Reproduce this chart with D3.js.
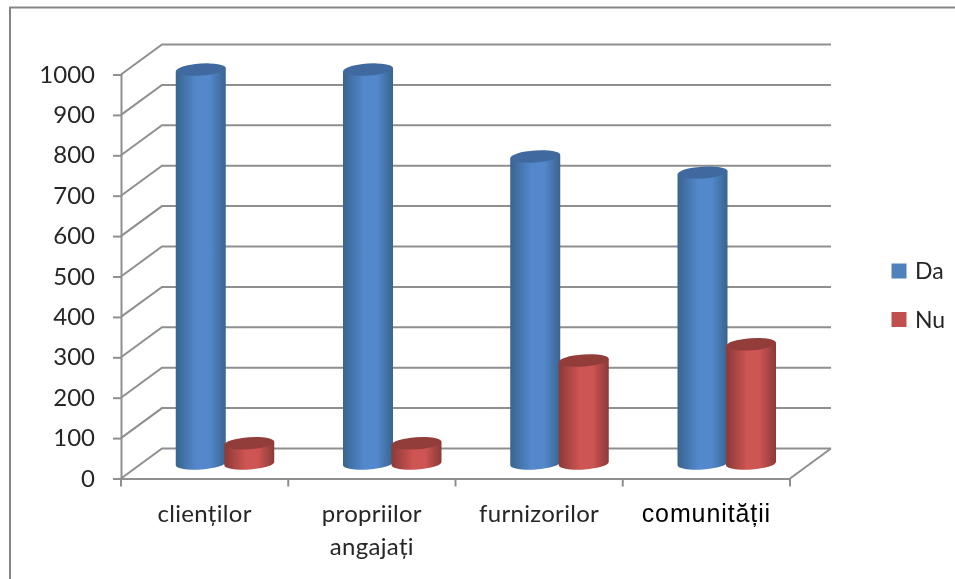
<!DOCTYPE html>
<html>
<head>
<meta charset="utf-8">
<script src="https://cdn.jsdelivr.net/npm/d3@7"></script>
<style>
    html, body { margin: 0; padding: 0; background: #fff; overflow: hidden; }
    svg { display: block; }
    text { font-family: Lato, "Open Sans", sans-serif; fill: #262626; }
</style>
</head>
<body>
<div id="chart"></div>
<script>
// Chart data
const categories = ['clienților', 'propriilor angajați', 'furnizorilor', 'comunității'];
const seriesNames = ['Da', 'Nu'];
const daValues = [975, 975, 760, 720];
const nuValues = [50, 50, 255, 295];
const yTicks = [0, 100, 200, 300, 400, 500, 600, 700, 800, 900, 1000];

const seriesColors = {
    Da: { edge: '#39648f', mid: '#5388cc', top: '#3f6b9f', legend: '#4f81bd' },
    Nu: { edge: '#8a3a38', mid: '#cd5452', top: '#933d3b', legend: '#c0504d' }
};

const width = 955, height = 579;
const depthX = 41, depthY = -30;
const gridColor = '#8f8f8f';

const svg = d3.select('#chart').append('svg')
    .attr('width', width)
    .attr('height', height);

const defs = svg.append('defs');
defs.append('filter').attr('id', 'soft')
    .append('feGaussianBlur').attr('stdDeviation', 0.5);

seriesNames.forEach(name => {
    const c = seriesColors[name];
    const grad = defs.append('linearGradient').attr('id', 'grad-' + name);
    [[0, c.edge], [0.42, c.mid], [0.68, c.mid], [1, c.edge]].forEach(s => {
        grad.append('stop').attr('offset', s[0]).attr('stop-color', s[1]);
    });
});

const root = svg.append('g').attr('filter', 'url(#soft)');

// Scales
const x0 = d3.scaleBand().domain(categories).range([121, 790]);
const x1 = d3.scaleBand().domain(seriesNames).range([35, 132]);
const y = d3.scaleLinear().domain([0, 1000]).range([478.5, 74.5]);

// Outer frame of the picture
root.append('path')
    .attr('d', `M10,${height} V7.5 H${width}`)
    .attr('fill', 'none')
    .attr('stroke', '#858585')
    .attr('stroke-width', 2);

// Back wall and side wall gridlines
const grid = root.append('g')
    .attr('fill', 'none')
    .attr('stroke', gridColor)
    .attr('stroke-width', 2);

grid.selectAll('path')
    .data(yTicks)
    .enter().append('path')
    .attr('d', d => `M121,${y(d)} l${depthX},${depthY} H${790 + depthX}`);

grid.append('path')
    .attr('d', `M790,${y(0)} l${depthX},${depthY}`);

// Axes
const yAxis = root.append('g')
    .attr('transform', 'translate(121,0)')
    .call(d3.axisLeft(y).tickValues(yTicks).tickSize(8).tickPadding(18).tickFormat(d3.format('d')));

const xAxis = root.append('g')
    .attr('transform', `translate(0,${y(0)})`)
    .call(d3.axisBottom(x0).tickValues([]).tickSizeOuter(0));

[yAxis, xAxis].forEach(axis => {
    axis.selectAll('path, line').attr('stroke', gridColor).attr('stroke-width', 2);
});
yAxis.selectAll('text').attr('font-size', 24).attr('fill', '#262626').style('font-family', 'Lato');

// Category ticks on the floor edge
root.selectAll('.x-tick')
    .data(categories.concat(['end']))
    .enter().append('line')
    .attr('class', 'x-tick')
    .attr('x1', (d, i) => 121 + i * x0.bandwidth())
    .attr('x2', (d, i) => 121 + i * x0.bandwidth())
    .attr('y1', y(0))
    .attr('y2', y(0) + 8)
    .attr('stroke', gridColor)
    .attr('stroke-width', 2);

// Cylinders
const rx = 25, ry = 6, tilt = -4, lean = 1.8;

function drawCylinder(g, cx, baseY, topY, name) {
    const c = seriesColors[name];
    g.append('path')
        .attr('d', `M${cx - rx},${topY + lean} V${baseY + lean}
            A${rx},${ry} ${tilt} 0 0 ${cx + rx},${baseY - lean}
            V${topY - lean} Z`)
        .attr('fill', `url(#grad-${name})`);
    g.append('ellipse')
        .attr('cx', cx).attr('cy', topY)
        .attr('rx', rx).attr('ry', ry)
        .attr('transform', `rotate(${tilt} ${cx} ${topY})`)
        .attr('fill', c.top);
}

const bars = root.append('g');
categories.forEach((cat, i) => {
    const rows = [['Da', daValues[i]], ['Nu', nuValues[i]]];
    rows.forEach(([name, value]) => {
        const cx = x0(cat) + x1(name) + x1.bandwidth() / 2 + depthX / 2;
        drawCylinder(bars, cx, y(0) + depthY / 2, y(value) + depthY / 2, name);
    });
});

// Category labels
const labelLines = [['clienților'], ['propriilor', 'angajați'], ['furnizorilor'], ['comunității']];
categories.forEach((cat, i) => {
    const label = root.append('text')
        .attr('text-anchor', 'middle')
        .attr('font-size', 24)
        .attr('letter-spacing', 0.3);
    labelLines[i].forEach((line, j) => {
        label.append('tspan')
            .attr('x', x0(cat) + x0.bandwidth() / 2)
            .attr('y', 522 + j * 33)
            .text(line);
    });
    if (i === 3) {
        label.style('font-family', '"Liberation Sans"').style('fill', '#000')
            .attr('font-size', 25).attr('letter-spacing', 0.9);
    }
});

// Legend
const legendY = d3.scalePoint().domain(seriesNames).range([271, 319.5]);
seriesNames.forEach(name => {
    root.append('rect')
        .attr('x', 891.5).attr('y', legendY(name) - 7.5)
        .attr('width', 15).attr('height', 15)
        .attr('fill', seriesColors[name].legend);
    root.append('text')
        .attr('x', 915).attr('y', legendY(name) + 8)
        .attr('font-size', 23)
        .text(name);
});
</script>
</body>
</html>
